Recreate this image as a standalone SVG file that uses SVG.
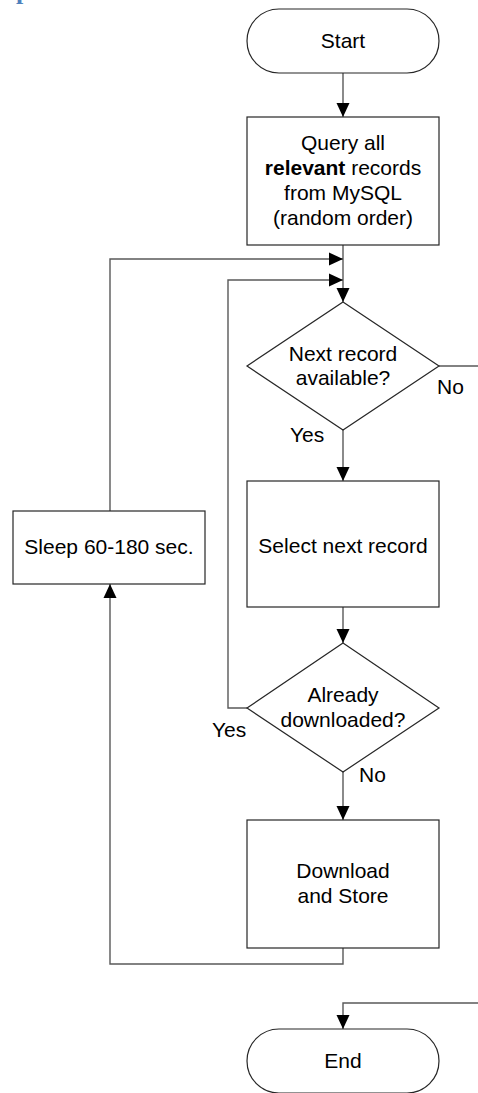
<svg xmlns="http://www.w3.org/2000/svg" width="478" height="1093" viewBox="0 0 478 1093">
<style>
.n{fill:#fff;stroke:#262626;stroke-width:1.2}
.t{font-family:"Liberation Sans",Arial,sans-serif;font-size:21px;fill:#000;text-anchor:middle}
.l{font-family:"Liberation Sans",Arial,sans-serif;font-size:21px;fill:#000}
.c{fill:none;stroke:#595959;stroke-width:1.4}
</style>
<defs>
<marker id="a" markerWidth="14" markerHeight="14" refX="14" refY="7" orient="auto" markerUnits="userSpaceOnUse">
<path d="M0,0.5 L14,7 L0,13.5 Z" fill="#000"/>
</marker>
</defs>
<text x="16" y="-1" font-family="'Liberation Serif',serif" font-weight="bold" font-size="26" fill="#4F81BD">p</text>
<g id="connectors">
<path class="c" d="M343,73 V117" marker-end="url(#a)"/>
<path class="c" d="M343,245 V302" marker-end="url(#a)"/>
<path class="c" d="M110,511 V259 H343" marker-end="url(#a)"/>
<path class="c" d="M247,708 H228 V280 H343" marker-end="url(#a)"/>
<path class="c" d="M439,366 H478"/>
<path class="c" d="M343,430 V481" marker-end="url(#a)"/>
<path class="c" d="M343,607 V643" marker-end="url(#a)"/>
<path class="c" d="M343,772 V820" marker-end="url(#a)"/>
<path class="c" d="M343,948 V964 H110 V584" marker-end="url(#a)"/>
<path class="c" d="M478,1003 H343 V1029" marker-end="url(#a)"/>
<text class="l" x="437" y="394">No</text>
<text class="l" x="290" y="442">Yes</text>
<text class="l" x="212" y="737">Yes</text>
<text class="l" x="359" y="782">No</text>
</g>
<g id="start">
<rect class="n" x="247" y="9" width="192" height="64" rx="32"/>
<text class="t" x="343" y="48">Start</text>
</g>
<g id="query">
<rect class="n" x="247" y="117" width="192" height="128"/>
<text class="t" x="343" y="150">Query all</text>
<text class="t" x="343" y="175"><tspan font-weight="bold">relevant</tspan> records</text>
<text class="t" x="343" y="200">from MySQL</text>
<text class="t" x="343" y="225">(random order)</text>
</g>
<g id="next">
<path class="n" d="M343,302 L439,366 L343,430 L247,366 Z"/>
<text class="t" x="343" y="361">Next record</text>
<text class="t" x="343" y="385">available?</text>
</g>
<g id="select">
<rect class="n" x="247" y="481" width="192" height="126"/>
<text class="t" x="343" y="553">Select next record</text>
</g>
<g id="already">
<path class="n" d="M343,643 L439,708 L343,772 L247,708 Z"/>
<text class="t" x="343" y="702">Already</text>
<text class="t" x="343" y="727">downloaded?</text>
</g>
<g id="download">
<rect class="n" x="247" y="820" width="192" height="128"/>
<text class="t" x="343" y="878">Download</text>
<text class="t" x="343" y="903">and Store</text>
</g>
<g id="sleep">
<rect class="n" x="13" y="511" width="192" height="73"/>
<text class="t" x="109" y="554">Sleep 60-180 sec.</text>
</g>
<g id="end">
<rect class="n" x="247" y="1029" width="192" height="64" rx="32"/>
<text class="t" x="343" y="1068">End</text>
</g>
</svg>
